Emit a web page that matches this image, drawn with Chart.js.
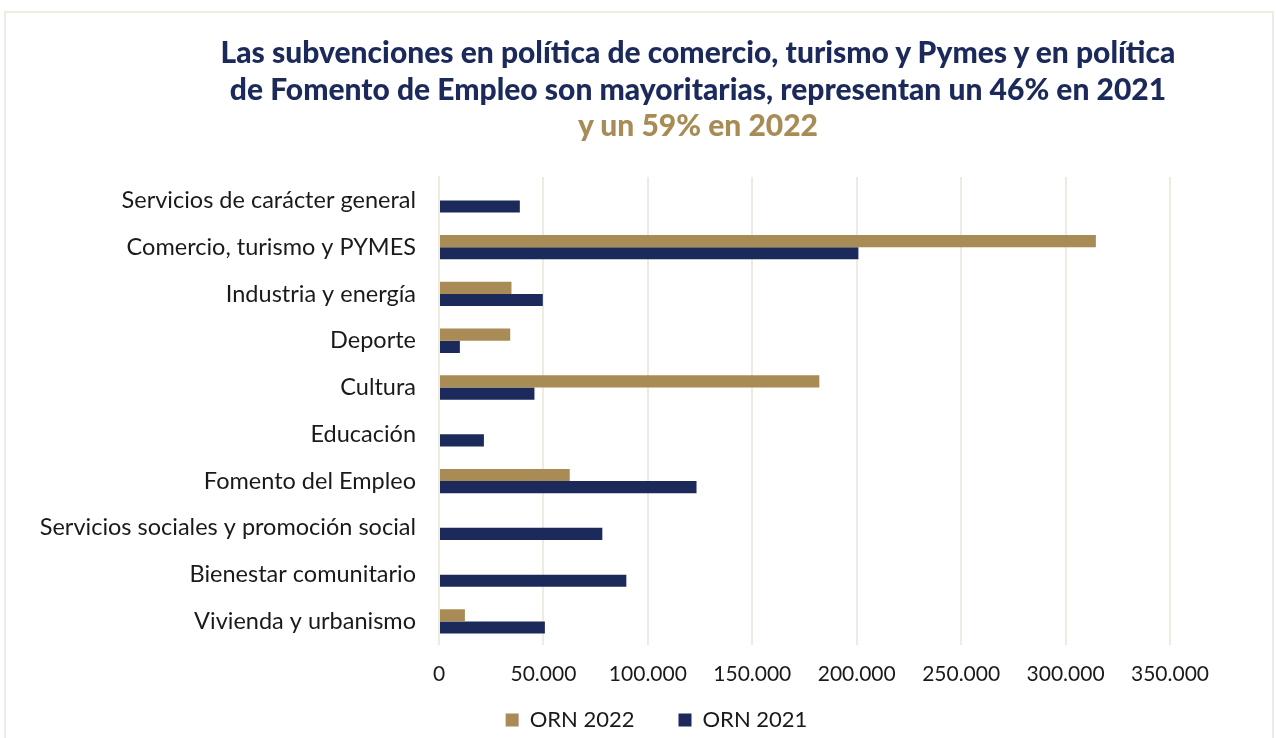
<!DOCTYPE html>
<html>
<head>
<meta charset="utf-8">
<script src="https://cdn.jsdelivr.net/npm/chart.js@4"></script>
<style>
	html, body { margin: 0; padding: 0; background: #fff; }
	#marco { position: absolute; left: 4px; top: 11px; width: 1266px; height: 740px; border: 2px solid #efebe0; }
	#titulo { position: absolute; left: 120px; top: 33px; width: 1156px; text-align: center;
		font-family: Lato, sans-serif; font-weight: 900; font-size: 30px; line-height: 36.5px; color: #1b2a5a; z-index: 2; }
	#titulo .oro { color: #a88b55; }
	#lienzo { position: absolute; left: 0; top: 0; }
</style>
</head>
<body>
<div id="marco"></div>
<div id="titulo">
	<div>Las subvenciones en política de comercio, turismo y Pymes y en política</div>
	<div>de Fomento de Empleo son mayoritarias, representan un 46% en 2021</div>
	<div class="oro">y un 59% en 2022</div>
</div>
<div id="lienzo" style="width:1276px;height:738px;"><canvas id="myChart"></canvas></div>
<script>
// categorias y valores (euros)
const categorias = [
	'Servicios de carácter general',
	'Comercio, turismo y PYMES',
	'Industria y energía',
	'Deporte',
	'Cultura',
	'Educación',
	'Fomento del Empleo',
	'Servicios sociales y promoción social',
	'Bienestar comunitario',
	'Vivienda y urbanismo'
];
const orn2022 = [null, 314500, 34700, 34100, 182100, null, 62600, null, null, 12400];
const orn2021 = [38700, 200800, 49700, 10000, 45700, 21500, 123300, 78200, 89700, 50700];
const ticksX = [0, 50000, 100000, 150000, 200000, 250000, 300000, 350000];

const ORO = '#a88b55';
const AZUL = '#1b2a5a';
const REJILLA = '#efebe0';

function miles(v) {
	return String(v).replace(/\B(?=(\d{3})+(?!\d))/g, '.');
}

// mueve la leyenda a su sitio (centrada bajo el grafico)
const moverLeyenda = {
	id: 'moverLeyenda',
	afterLayout: function (chart) {
		const lg = chart.legend;
		lg.left += 69;
		lg.right += 69;
		lg.top -= 39;
		lg.bottom -= 39;
	}
};

Chart.defaults.font.family = 'Lato, sans-serif';
Chart.defaults.color = '#1a1a1a';

var ctx = document.getElementById('myChart').getContext('2d');
var myChart = new Chart(ctx, {
	type: 'bar',
	data: {
		labels: categorias,
		datasets: [{
			label: 'ORN 2022',
			data: orn2022,
			backgroundColor: ORO
		}, {
			label: 'ORN 2021',
			data: orn2021,
			backgroundColor: AZUL
		}]
	},
	options: {
		indexAxis: 'y',
		responsive: true,
		maintainAspectRatio: false,
		animation: false,
		datasets: {
			bar: { categoryPercentage: 0.52, barPercentage: 1.0 }
		},
		layout: {
			padding: { left: 5, right: 106, top: 177, bottom: -42 }
		},
		scales: {
			x: {
				min: 0,
				max: 350000,
				afterBuildTicks: function (scale) {
					scale.ticks = ticksX.map(v => ({ value: v }));
				},
				afterFit: function (scale) {
					scale.paddingLeft = 0;
					scale.paddingRight = 0;
				},
				grid: { color: REJILLA, lineWidth: 2, drawTicks: false },
				border: { display: false },
				ticks: {
					padding: 17,
					maxRotation: 0,
					font: { size: 21 },
					callback: function (v) { return miles(v); }
				}
			},
			y: {
				afterFit: function (scale) {
					scale.width = 434;
					scale.paddingTop = 0;
					scale.paddingBottom = 0;
				},
				grid: { display: false, drawTicks: false },
				border: { color: REJILLA, width: 2 },
				ticks: {
					padding: 23,
					font: { size: 23.5 }
				}
			}
		},
		plugins: {
			legend: {
				position: 'bottom',
				labels: {
					boxWidth: 13,
					boxHeight: 13,
					padding: 44,
					font: { size: 22 }
				}
			},
			tooltip: { enabled: false }
		}
	},
	plugins: [moverLeyenda]
});
</script>
</body>
</html>
